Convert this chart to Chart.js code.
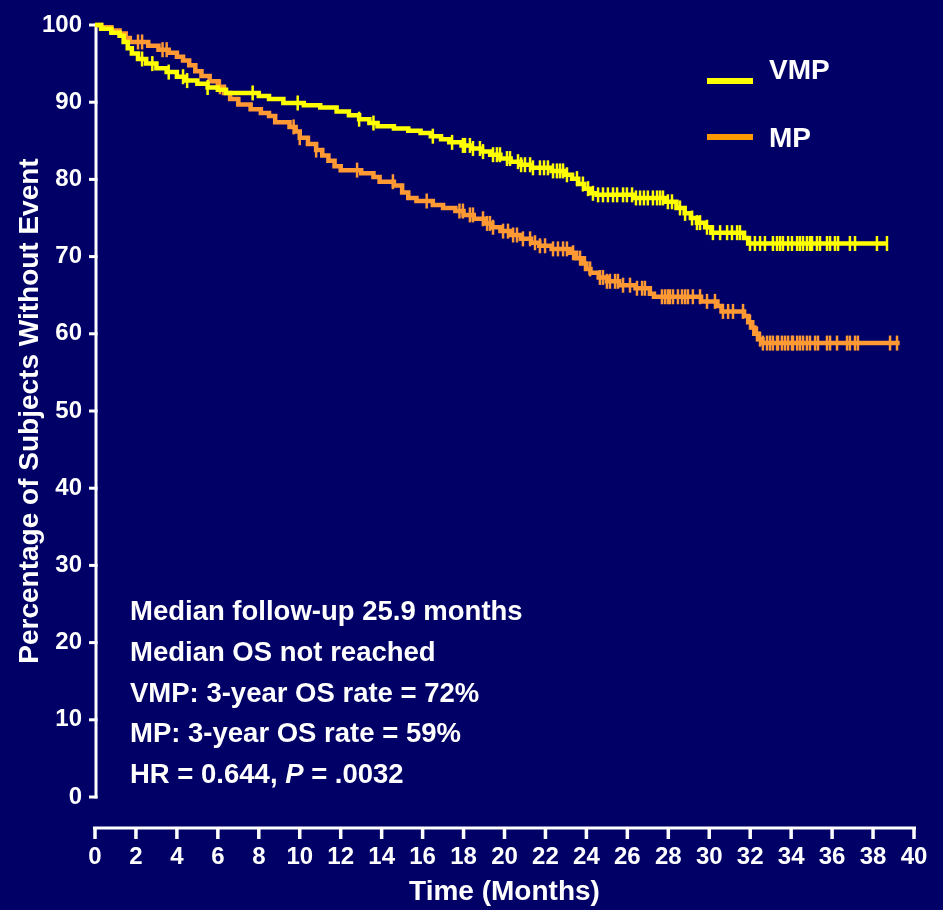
<!DOCTYPE html>
<html>
<head>
<meta charset="utf-8">
<script src="https://cdn.jsdelivr.net/npm/chart.js@4.4.1/dist/chart.umd.min.js"></script>
<style>
  html, body { margin: 0; padding: 0; background: #000066; }
  #wrap { position: relative; width: 943px; height: 910px; }
</style>
</head>
<body>
<div id="wrap"><canvas id="km" width="943" height="910"></canvas></div>
<script>
// Axis ticks
const xTickValues = [0, 2, 4, 6, 8, 10, 12, 14, 16, 18, 20, 22, 24, 26, 28, 30, 32, 34, 36, 38, 40];
const yTickValues = [0, 10, 20, 30, 40, 50, 60, 70, 80, 90, 100];

// Kaplan-Meier steps: time of each step (months) and survival after it (%)
const vmpTime = [0, 0.3, 0.8, 1.2, 1.4, 1.6, 1.8, 2.1, 2.5, 3.0, 3.5, 4.0, 4.4, 5.0, 5.5, 6.0, 6.4, 8.0, 8.5, 9.2,
  10.2, 11.0, 11.8, 12.4, 12.9, 13.4, 13.8, 14.6, 15.3, 15.9, 16.4, 16.9, 17.3, 17.9, 18.4, 18.9, 19.3, 19.8, 20.3, 20.8,
  21.3, 22.3, 22.9, 23.3, 23.6, 23.9, 24.2, 24.5, 26.3, 27.9, 28.4, 28.8, 29.1, 29.4, 29.8, 30.1, 31.7, 31.9, 38.7];
const vmpSurv = [100, 99.5, 99.0, 98.6, 97.8, 97.0, 96.3, 95.6, 95.0, 94.4, 93.9, 93.3, 92.8, 92.4, 91.9, 91.6, 91.2, 90.8, 90.4, 89.9,
  89.6, 89.3, 88.8, 88.3, 87.8, 87.3, 86.9, 86.6, 86.3, 86.0, 85.6, 85.2, 84.8, 84.4, 84.0, 83.6, 83.2, 82.7, 82.3, 81.9,
  81.5, 81.1, 80.6, 80.1, 79.4, 78.8, 78.2, 78.0, 77.6, 77.1, 76.3, 75.6, 75.0, 74.4, 73.8, 73.1, 72.4, 71.7, 71.7];

const mpTime = [0, 0.3, 0.8, 1.2, 1.5, 1.7, 2.6, 3.1, 3.6, 4.0, 4.3, 4.6, 4.9, 5.2, 5.6, 6.0, 6.3, 6.6, 7.0, 7.6,
  8.1, 8.5, 8.8, 9.5, 9.8, 10.0, 10.4, 10.8, 11.1, 11.4, 11.7, 12.0, 13.0, 13.6, 13.9, 14.6, 15.0, 15.3, 15.7, 16.5,
  17.0, 17.6, 18.0, 18.5, 19.0, 19.4, 19.8, 20.3, 20.8, 21.3, 21.7, 22.3, 23.2, 23.5, 23.8, 24.0, 24.2, 24.6, 25.0, 25.6,
  26.4, 27.1, 27.3, 29.6, 30.4, 30.6, 31.7, 31.9, 32.1, 32.2, 32.4, 32.6, 39.3];
const mpSurv = [100, 99.7, 99.3, 98.9, 98.3, 97.8, 97.3, 96.8, 96.4, 95.9, 95.4, 94.8, 94.0, 93.4, 92.7, 92.0, 91.2, 90.4, 89.7, 89.1,
  88.6, 88.2, 87.4, 86.8, 86.2, 85.4, 84.6, 83.8, 83.1, 82.4, 81.7, 81.2, 80.8, 80.3, 79.7, 79.2, 78.3, 77.6, 77.2, 76.7,
  76.3, 75.9, 75.4, 74.9, 74.3, 73.8, 73.3, 72.8, 72.3, 71.8, 71.4, 71.0, 70.5, 69.8, 69.1, 68.4, 67.9, 67.3, 66.8, 66.3,
  65.9, 65.2, 64.8, 64.2, 63.6, 62.9, 62.3, 61.5, 60.8, 60.0, 59.3, 58.8, 58.8];

// Censored observations (months)
const vmpCensor = [2.3, 2.8, 3.6, 4.3, 4.5, 5.5, 7.7, 9.9, 12.9, 13.6, 16.5, 17.44, 17.97, 18.07, 18.31, 18.46, 18.8, 18.95,
  19.44, 19.63, 19.78, 20.12, 20.27, 20.66, 20.81, 21.0, 21.25, 21.39, 21.73, 21.93, 22.12, 22.37, 22.56, 22.71, 22.86, 23.05,
  23.54, 23.83, 24.08, 24.32, 24.57, 24.81, 25.05, 25.3, 25.5, 25.79, 25.98, 26.23, 26.42, 26.62, 26.81, 27.0, 27.25, 27.45,
  27.6, 27.74, 27.98, 28.18, 28.57, 28.82, 29.16, 29.4, 29.55, 29.89, 30.18, 30.53, 30.87, 31.11, 31.36, 31.5, 31.99, 32.23,
  32.48, 32.72, 33.11, 33.31, 33.46, 33.6, 33.85, 34.04, 34.29, 34.43, 34.58, 34.77, 34.92, 35.02, 35.26, 35.41, 35.75, 35.9,
  36.14, 36.29, 36.87, 37.12, 38.19, 38.68];
const mpCensor = [2.1, 2.3, 3.3, 3.5, 6.1, 9.7, 10.0, 10.8, 12.8, 14.55, 16.2, 17.8, 17.97, 18.31, 18.46, 18.95, 19.15, 19.29,
  19.44, 19.93, 20.17, 20.42, 20.61, 20.9, 21.25, 21.49, 21.73, 21.98, 22.37, 22.61, 22.86, 23.05, 23.35, 23.69, 23.93, 24.18,
  24.66, 24.81, 25.0, 25.15, 25.4, 25.54, 25.79, 26.13, 26.47, 26.72, 26.86, 27.69, 27.84, 27.98, 28.08, 28.23, 28.47, 28.67,
  28.82, 28.96, 29.2, 29.55, 29.89, 30.28, 30.67, 30.92, 31.16, 31.65, 31.99, 32.33, 32.48, 32.62, 32.82, 32.97, 33.11, 33.31,
  33.36, 33.55, 33.7, 33.85, 34.04, 34.09, 34.29, 34.43, 34.58, 34.77, 34.92, 35.17, 35.31, 35.75, 35.9, 36.24, 36.73, 36.87,
  37.12, 37.26, 38.83, 39.17];

const seriesNames = ['VMP', 'MP'];

// Summary statistics printed in the plot; each line is a list of [text, italic] runs
const noteLines = [
  [['Median follow-up 25.9 months', false]],
  [['Median OS not reached', false]],
  [['VMP: 3-year OS rate = 72%', false]],
  [['MP: 3-year OS rate = 59%', false]],
  [['HR = 0.644, ', false], ['P', true], [' = .0032', false]]
];

// ---- styling ----
const BG = '#000066';
const WHITE = '#ffffff';
const FAMILY = '"Liberation Sans", Arial, Helvetica, sans-serif';
const curveColors = ['#ffff00', '#ff9933'];
const legendColors = ['#ffff00', '#ff9900'];

function toPoints(times, surv) {
  return times.map((t, i) => ({ x: t, y: surv[i] }));
}
function survivalAt(times, surv, t) {
  let s = surv[0];
  for (let i = 0; i < times.length; i++) {
    if (times[i] <= t) s = surv[i]; else break;
  }
  return s;
}
function censorPoints(censor, times, surv) {
  return censor.map(t => ({ x: t, y: survivalAt(times, surv, t) }));
}

function curveDataset(label, pts, color) {
  return {
    label, data: pts, showLine: true, stepped: true,
    borderColor: color, borderWidth: 4.5, pointRadius: 0, pointHoverRadius: 0,
    fill: false, clip: false
  };
}
function censorDataset(label, pts, color) {
  return {
    label, data: pts, showLine: false,
    pointStyle: 'line', rotation: 90, pointRadius: 7.5, pointHoverRadius: 7.5,
    borderColor: color, backgroundColor: color, borderWidth: 2.5, clip: false
  };
}

const backdrop = {
  id: 'backdrop',
  beforeDraw(chart) {
    const ctx = chart.ctx;
    ctx.save();
    ctx.fillStyle = BG;
    ctx.fillRect(0, 0, chart.width, chart.height);
    ctx.restore();
  }
};

// Detached axis lines with short tick marks
const axisLines = {
  id: 'axisLines',
  beforeDatasetsDraw(chart) {
    const { ctx, scales: { x, y } } = chart;
    const x0 = x.getPixelForValue(0) + 1;
    const yTop = y.getPixelForValue(100);
    const yBot = y.getPixelForValue(0);
    ctx.save();
    ctx.strokeStyle = WHITE;
    ctx.lineCap = 'butt';
    // vertical axis
    ctx.lineWidth = 3;
    ctx.beginPath();
    ctx.moveTo(x0, yTop - 1.5);
    ctx.lineTo(x0, yBot + 1.5);
    ctx.stroke();
    yTickValues.forEach(v => {
      const py = y.getPixelForValue(v);
      ctx.beginPath();
      ctx.moveTo(x0 - 7, py);
      ctx.lineTo(x0 + 1.5, py);
      ctx.stroke();
    });
    // horizontal axis, set below the plotting area
    const ax = yBot + 31;
    ctx.beginPath();
    ctx.moveTo(x.getPixelForValue(0) - 2, ax);
    ctx.lineTo(x.getPixelForValue(40) + 2, ax);
    ctx.stroke();
    ctx.lineWidth = 3.5;
    xTickValues.forEach(v => {
      const px = x.getPixelForValue(v);
      ctx.beginPath();
      ctx.moveTo(px, ax);
      ctx.lineTo(px, ax + 11);
      ctx.stroke();
    });
    ctx.restore();
  }
};

// Legend rows and the statistics block
const legendRows = [{ lineY: 81, textY: 79 }, { lineY: 137, textY: 147 }];
const overlays = {
  id: 'overlays',
  afterDraw(chart) {
    const ctx = chart.ctx;
    ctx.save();
    seriesNames.forEach((name, i) => {
      const r = legendRows[i];
      ctx.fillStyle = legendColors[i];
      ctx.fillRect(707, r.lineY - 3, 46, 6);
      ctx.fillStyle = WHITE;
      ctx.font = 'bold 28px ' + FAMILY;
      ctx.textBaseline = 'alphabetic';
      ctx.textAlign = 'left';
      ctx.fillText(name, 769, r.textY);
    });
    ctx.fillStyle = WHITE;
    ctx.textBaseline = 'alphabetic';
    ctx.textAlign = 'left';
    noteLines.forEach((runs, i) => {
      let px = 130;
      const py = 620 + i * 40.75;
      runs.forEach(([text, italic]) => {
        ctx.font = (italic ? 'italic ' : '') + 'bold 27.5px ' + FAMILY;
        ctx.fillText(text, px, py);
        px += ctx.measureText(text).width;
      });
    });
    ctx.restore();
  }
};

const tickFont = { family: FAMILY, size: 24, weight: 'bold' };
const titleFont = { family: FAMILY, size: 28, weight: 'bold' };

new Chart(document.getElementById('km'), {
  type: 'scatter',
  data: {
    datasets: [
      curveDataset(seriesNames[0], toPoints(vmpTime, vmpSurv), curveColors[0]),
      censorDataset(seriesNames[0] + ' censored', censorPoints(vmpCensor, vmpTime, vmpSurv), curveColors[0]),
      curveDataset(seriesNames[1], toPoints(mpTime, mpSurv), curveColors[1]),
      censorDataset(seriesNames[1] + ' censored', censorPoints(mpCensor, mpTime, mpSurv), curveColors[1])
    ]
  },
  options: {
    responsive: false,
    animation: false,
    events: [],
    layout: { padding: { left: 0, top: 25, right: 29, bottom: 0 } },
    plugins: { legend: { display: false }, tooltip: { enabled: false } },
    scales: {
      x: {
        type: 'linear', min: 0, max: 40,
        afterBuildTicks: s => { s.ticks = xTickValues.map(v => ({ value: v })); },
        afterFit: s => { s.height = 113; },
        grid: { display: false, drawTicks: true, tickLength: 46 },
        border: { display: false },
        ticks: { color: WHITE, font: tickFont, padding: 0, maxRotation: 0, autoSkip: false, callback: v => String(v) },
        title: { display: true, text: 'Time (Months)', color: WHITE, font: titleFont, padding: { top: 0, bottom: 1 } }
      },
      y: {
        type: 'linear', min: 0, max: 100,
        afterBuildTicks: s => { s.ticks = yTickValues.map(v => ({ value: v })); },
        afterFit: s => { s.width = 95; },
        grid: { display: false, drawTicks: true, tickLength: 13 },
        border: { display: false },
        ticks: { color: WHITE, font: tickFont, padding: 0, autoSkip: false, callback: v => String(v) },
        title: { display: true, text: 'Percentage of Subjects Without Event', color: WHITE, font: titleFont, padding: { top: 13, bottom: 0 } }
      }
    }
  },
  plugins: [backdrop, axisLines, overlays]
});
</script>
</body>
</html>
